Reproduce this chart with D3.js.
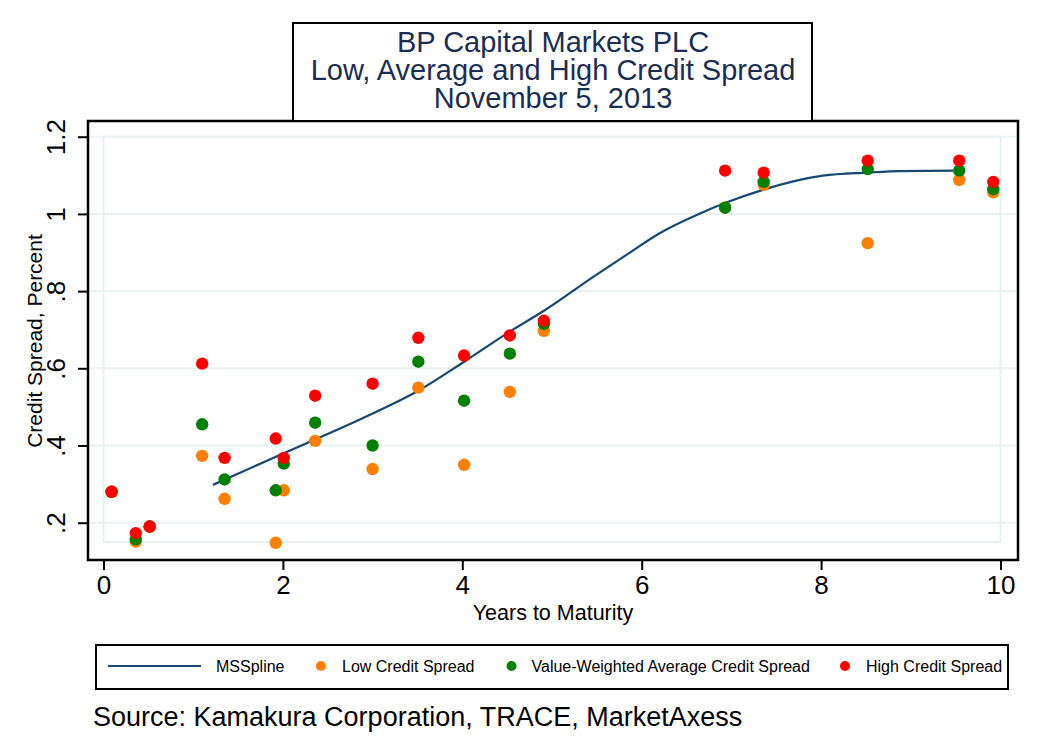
<!DOCTYPE html>
<html>
<head>
<meta charset="utf-8">
<script src="https://cdn.jsdelivr.net/npm/d3@7"></script>
<style>
  body { margin: 0; background: #fff; }
  svg text { font-family: "Liberation Sans", Arial, sans-serif; }
</style>
</head>
<body>
<svg id="chart" width="1038" height="746"></svg>
<script>
// bonds: years to maturity and spreads (percent)
var maturity = [0.09, 0.36, 0.515, 1.10, 1.35, 1.92, 2.01, 2.36, 3.00, 3.51, 4.02, 4.53, 4.91, 6.93, 7.36, 8.52, 9.54, 9.92];
var lowSpread  = [0.280, 0.151, 0.190, 0.373, 0.262, 0.148, 0.284, 0.412, 0.339, 0.550, 0.350, 0.539, 0.697, 1.016, 1.075, 0.924, 1.088, 1.056];
var avgSpread  = [0.280, 0.157, 0.190, 0.455, 0.312, 0.284, 0.353, 0.459, 0.400, 0.617, 0.516, 0.638, 0.715, 1.016, 1.083, 1.116, 1.112, 1.064];
var highSpread = [0.280, 0.173, 0.190, 0.612, 0.368, 0.418, 0.368, 0.529, 0.560, 0.679, 0.633, 0.685, 0.723, 1.112, 1.107, 1.138, 1.138, 1.083];

// fitted maximum smoothness spline
var splineX = [1.22, 2.01, 3.00, 3.51, 4.02, 4.53, 4.91, 5.46, 5.83, 6.20, 6.65, 6.95, 7.36, 8.02, 8.52, 8.88, 9.47];
var splineY = [0.298, 0.380, 0.483, 0.542, 0.617, 0.695, 0.749, 0.837, 0.894, 0.950, 1.001, 1.030, 1.063, 1.099, 1.107, 1.111, 1.112];

var xTicks = [0, 2, 4, 6, 8, 10];
var yTicks = [0.2, 0.4, 0.6, 0.8, 1, 1.2];
var yTickLabels = [".2", ".4", ".6", ".8", "1", "1.2"];

var titleLines = ["BP Capital Markets PLC", "Low, Average and High Credit Spread", "November 5, 2013"];
var legendLabels = ["MSSpline", "Low Credit Spread", "Value-Weighted Average Credit Spread", "High Credit Spread"];

var colors = { spline: "#1a476f", low: "#ff8000", avg: "#008000", high: "#ff0000" };

var svg = d3.select("#chart");

var x = d3.scaleLinear().domain([0, 10]).range([103.5, 1000.5]);
var y = d3.scaleLinear().domain([0.2, 1.2]).range([522.7, 136.7]);

var frame = { left: 88, top: 121, right: 1018, bottom: 560 };

// light plot region outline + grid
var grid = svg.append("g");
grid.append("rect")
  .attr("x", x(0)).attr("y", y(1.2))
  .attr("width", x(10) - x(0)).attr("height", y(0.15) - y(1.2))
  .attr("fill", "none").attr("stroke", "#eaf1f3").attr("stroke-width", 2);
grid.selectAll("line.gy")
  .data(yTicks)
  .enter().append("line")
  .attr("class", "gy")
  .attr("x1", frame.left).attr("x2", frame.right)
  .attr("y1", function(d){ return y(d); })
  .attr("y2", function(d){ return y(d); })
  .attr("stroke", "#eaf1f3").attr("stroke-width", 2);

// axes
var xAxis = d3.axisBottom(x).tickValues(xTicks).tickSize(10).tickPadding(6)
  .tickFormat(function(d){ return d; });
var gx = svg.append("g").attr("transform", "translate(0," + frame.bottom + ")").call(xAxis);
gx.select(".domain").remove();
gx.selectAll(".tick line").attr("stroke", "#000").attr("stroke-width", 2);
gx.selectAll(".tick text").attr("font-size", 26).attr("fill", "#000")
  .attr("font-family", "Liberation Sans, Arial, sans-serif");

var yAxis = d3.axisLeft(y).tickValues(yTicks).tickSize(10)
  .tickFormat(function(d, i){ return yTickLabels[i]; });
var gy = svg.append("g").attr("transform", "translate(" + frame.left + ",0)").call(yAxis);
gy.select(".domain").remove();
gy.selectAll(".tick line").attr("stroke", "#000").attr("stroke-width", 2);
gy.selectAll(".tick text")
  .attr("font-size", 26).attr("fill", "#000")
  .attr("font-family", "Liberation Sans, Arial, sans-serif")
  .attr("text-anchor", "middle")
  .attr("dy", null)
  .attr("x", null)
  .attr("transform", "translate(-23,0) rotate(-90)");

// plot frame
svg.append("rect")
  .attr("x", frame.left).attr("y", frame.top)
  .attr("width", frame.right - frame.left).attr("height", frame.bottom - frame.top)
  .attr("fill", "none").attr("stroke", "#000").attr("stroke-width", 2.5);

// axis titles
svg.append("text")
  .attr("x", 553).attr("y", 620)
  .attr("text-anchor", "middle").attr("font-size", 21.5)
  .text("Years to Maturity");
svg.append("text")
  .attr("transform", "translate(42,341) rotate(-90)")
  .attr("text-anchor", "middle").attr("font-size", 21)
  .text("Credit Spread, Percent");

// spline
var line = d3.line()
  .x(function(d){ return x(d[0]); })
  .y(function(d){ return y(d[1]); })
  .curve(d3.curveMonotoneX);
svg.append("path")
  .datum(d3.zip(splineX, splineY))
  .attr("d", line)
  .attr("fill", "none")
  .attr("stroke", colors.spline)
  .attr("stroke-width", 2.2);

// markers
function dots(values, color){
  svg.append("g").selectAll("circle")
    .data(d3.zip(maturity, values))
    .enter().append("circle")
    .attr("cx", function(d){ return x(d[0]); })
    .attr("cy", function(d){ return y(d[1]); })
    .attr("r", 6.2)
    .attr("fill", color);
}
dots(lowSpread, colors.low);
dots(avgSpread, colors.avg);
dots(highSpread, colors.high);

// title box, one text block with a tspan per line
svg.append("rect")
  .attr("x", 293).attr("y", 23).attr("width", 519).attr("height", 98)
  .attr("fill", "#fff").attr("stroke", "#000").attr("stroke-width", 2);
svg.append("text")
  .attr("text-anchor", "middle")
  .attr("font-size", 29)
  .attr("fill", "#1c2d52")
  .selectAll("tspan")
  .data(titleLines)
  .enter().append("tspan")
  .attr("x", 553)
  .attr("y", function(d, i){ return 52 + i * 28; })
  .text(function(d){ return d; });

// legend
var leg = svg.append("g");
leg.append("rect")
  .attr("x", 96).attr("y", 645).attr("width", 912).attr("height", 44)
  .attr("fill", "#fff").attr("stroke", "#000").attr("stroke-width", 2);
leg.append("line")
  .attr("x1", 108).attr("x2", 201).attr("y1", 666).attr("y2", 666)
  .attr("stroke", colors.spline).attr("stroke-width", 2.2);
var legDotX = [321, 511.5, 845];
var legColors = [colors.low, colors.avg, colors.high];
leg.selectAll("circle")
  .data(legDotX)
  .enter().append("circle")
  .attr("cx", function(d){ return d; })
  .attr("cy", 666)
  .attr("r", 5)
  .attr("fill", function(d, i){ return legColors[i]; });
var legTextX = [216, 342, 531.5, 866];
leg.selectAll("text")
  .data(legendLabels)
  .enter().append("text")
  .attr("x", function(d, i){ return legTextX[i]; })
  .attr("y", 672)
  .attr("font-size", 16)
  .text(function(d){ return d; });

// source note
svg.append("text")
  .attr("x", 93).attr("y", 726)
  .attr("font-size", 27)
  .text("Source: Kamakura Corporation, TRACE, MarketAxess");
</script>
</body>
</html>
